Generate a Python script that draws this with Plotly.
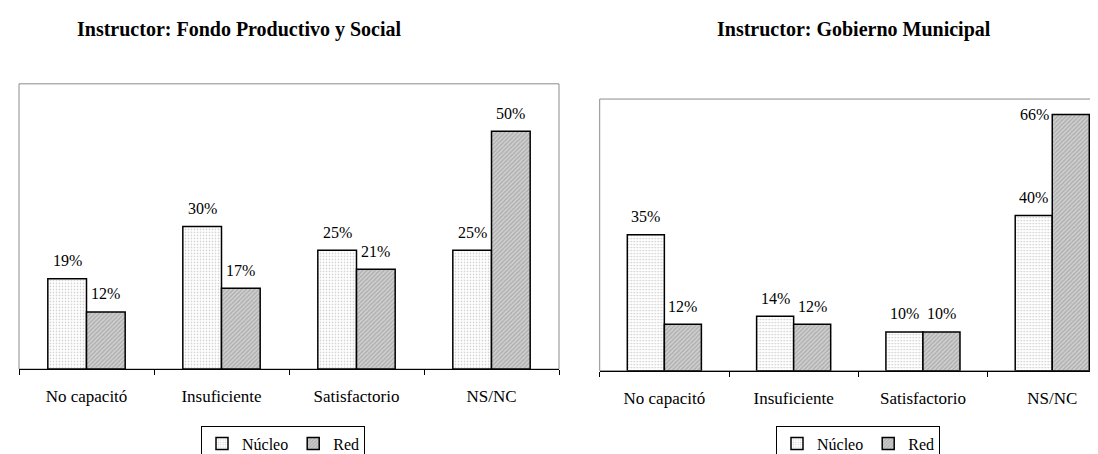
import plotly.graph_objects as go

# ---------------- data ----------------
categories = ["No capacitó", "Insuficiente", "Satisfactorio", "NS/NC"]
series_names = ["Núcleo", "Red"]
fps_nucleo = [19, 30, 25, 25]
fps_red = [12, 17, 21, 50]
gm_nucleo = [35, 14, 10, 40]
gm_red = [12, 12, 10, 66]
titles = ["Instructor: Fondo Productivo y Social", "Instructor: Gobierno Municipal"]
y_max = [60, 70]

# ---------------- layout constants (px) ----------------
W, H = 1098, 454
FONT = "Liberation Serif, Times New Roman, serif"
BARGAP = 0.427
panels = [
    dict(x0=11.0, x1=551.0, top=77.7, axis=370.0, title_x=231, legend_x=275),
    dict(x0=591.7, x1=1108.9, top=93.3, axis=371.7, title_x=846, legend_x=850),
]
data_sets = [(fps_nucleo, fps_red), (gm_nucleo, gm_red)]

nucleo_pattern = dict(shape=".", fgcolor="#9a9a9a", bgcolor="#ffffff", size=3, solidity=0.25, fillmode="overlay")
red_pattern = dict(shape="/", fgcolor="#8a8a8a", bgcolor="#d0d0d0", size=3, solidity=0.45, fillmode="overlay")
patterns = [nucleo_pattern, red_pattern]
fills = ["#ffffff", "#d0d0d0"]

fig = go.Figure()
shapes = []
annotations = []
n = len(categories)

for p, (panel, series) in enumerate(zip(panels, data_sets)):
    sfx = "" if p == 0 else str(p + 1)
    xa, ya = "x" + sfx, "y" + sfx
    legend_id = "legend" + sfx
    cat_px = (panel["x1"] - panel["x0"]) / n
    vis_x1 = min(panel["x1"], W)
    dom = [panel["x0"] / W, vis_x1 / W]
    xrange = [-0.5, -0.5 + n * (vis_x1 - panel["x0"]) / (panel["x1"] - panel["x0"])]
    ydom = [(H - panel["axis"]) / H, (H - panel["top"]) / H]
    px_per_unit = (panel["axis"] - panel["top"]) / y_max[p]
    bar_px = cat_px * (1 - BARGAP) / 2

    for s, vals in enumerate(series):
        fig.add_trace(go.Bar(
            x=categories, y=vals, name=series_names[s],
            xaxis=xa, yaxis=ya, legend=legend_id,
            marker=dict(color=fills[s], pattern=patterns[s],
                        line=dict(color="#000000", width=1.5)),
            hoverinfo="skip",
        ))
        sign = -1 if s == 0 else 1
        for c, v in zip(categories, vals):
            label = f"{v}%"
            overflow = (y_max[p] - v) * px_per_unit < 26
            if overflow:
                annotations.append(dict(
                    x=c, y=v, xref=xa, yref=ya, text=label, showarrow=False,
                    xanchor="right", yanchor="middle",
                    xshift=sign * bar_px / 2 - bar_px / 2 - 1,
                    font=dict(family=FONT, size=16, color="#000000")))
            else:
                annotations.append(dict(
                    x=c, y=v, xref=xa, yref=ya, text=label, showarrow=False,
                    xanchor="center", yanchor="middle",
                    xshift=sign * bar_px / 2, yshift=18,
                    font=dict(family=FONT, size=16, color="#000000")))

    fig.update_layout(**{
        "xaxis" + sfx: dict(
            domain=dom, range=xrange, type="category", anchor=ya,
            showline=True, linecolor="#000000", linewidth=1,
            ticks="outside", tickson="boundaries", ticklen=5, tickcolor="#000000",
            tickfont=dict(family=FONT, size=17, color="#000000"),
            ticklabelstandoff=12, showgrid=False, zeroline=False, fixedrange=True,
        ),
        "yaxis" + sfx: dict(
            domain=ydom, range=[0, y_max[p]], anchor=xa,
            showticklabels=False, showgrid=False, zeroline=False,
            showline=False, ticks="", fixedrange=True,
        ),
        legend_id: dict(
            orientation="h", x=panel["legend_x"] / W, xanchor="center",
            y=(H - 428) / H, yanchor="top",
            bordercolor="#000000", borderwidth=1, bgcolor="#ffffff",
            font=dict(family=FONT, size=16, color="#000000"),
            itemwidth=30, tracegroupgap=0,
        ),
    })

    shapes.append(dict(
        type="rect", xref=xa + " domain", yref=ya + " domain",
        x0=0, x1=1.0 if p == 0 else 1.05, y0=0, y1=1,
        line=dict(color="#8c8c8c", width=1), layer="below",
    ))
    annotations.append(dict(
        x=panel["title_x"] / W, y=1 - 22 / H, xref="paper", yref="paper",
        text=f"<b>{titles[p]}</b>", showarrow=False,
        xanchor="center", yanchor="middle",
        font=dict(family=FONT, size=20, color="#000000"),
    ))

fig.update_layout(
    width=W, height=H,
    margin=dict(l=0, r=0, t=0, b=0),
    paper_bgcolor="#ffffff", plot_bgcolor="#ffffff",
    barmode="group", bargap=BARGAP, bargroupgap=0,
    shapes=shapes, annotations=annotations,
    showlegend=True,
)

fig.write_html("out.html")
